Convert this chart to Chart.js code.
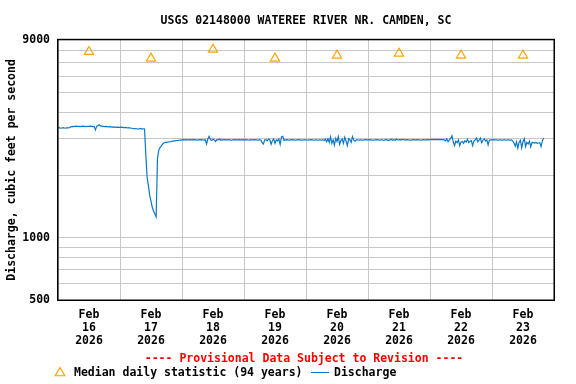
<!DOCTYPE html>
<html>
<head>
<meta charset="utf-8">
<title>USGS 02148000 Wateree River</title>
<script src="https://cdn.jsdelivr.net/npm/chart.js"></script>
<style>
  body { margin: 0; background: #fff; }
  canvas { display: block; }
</style>
</head>
<body>
<canvas id="flow-chart" width="576" height="384"></canvas>
<script>
// TEXT
const siteTitle = "USGS 02148000 WATEREE RIVER NR. CAMDEN, SC";
const yAxisTitle = "Discharge, cubic feet per second";
const provisionalNote = "---- Provisional Data Subject to Revision ----";
const medianLabel = "Median daily statistic (94 years)";
const dischargeLabel = "Discharge";

// x axis: one label per day, placed at noon
const dayLabels = ["Feb 16 2026", "Feb 17 2026", "Feb 18 2026", "Feb 19 2026",
                   "Feb 20 2026", "Feb 21 2026", "Feb 22 2026", "Feb 23 2026"];

// y axis (log): grid lines and the few that get a label
const yGridValues = [500, 600, 700, 800, 900, 1000, 2000, 3000, 4000, 5000, 6000, 7000, 8000, 9000];
const yLabelValues = [500, 1000, 9000];

// median daily statistic, one per day (cfs)
const medianFlow = [7880, 7320, 8090, 7320, 7570, 7740, 7570, 7570];

// discharge, every 30 minutes from Feb 16 00:00 (cfs)
const stepHours = 0.5;
const flowFeb16 = [3380, 3390, 3370, 3380, 3390, 3380, 3370, 3390, 3380, 3400, 3420,
  3440, 3430, 3440, 3450, 3440, 3440, 3430, 3440, 3450, 3440, 3440, 3430, 3440, 3440, 3450, 3440, 3430, 3440,
  3310, 3450, 3470, 3500, 3460,
  3450, 3440, 3430, 3440, 3430, 3420, 3430, 3420, 3410, 3420, 3410, 3400, 3410, 3400];
const flowFeb17 = [3400, 3410, 3400, 3390, 3400, 3390, 3380, 3390, 3380, 3370,
  3360, 3350, 3360, 3350, 3340, 3350, 3360, 3340, 3350, 3340,
  2500, 1950, 1780, 1600, 1500, 1400, 1340, 1300, 1260,
  2400, 2640, 2720, 2770, 2830, 2860,
  2880, 2880, 2890, 2900, 2900, 2910,
  2920, 2930, 2930, 2940, 2940, 2950, 2950];
const flowFeb18 = [2960, 2970, 2960, 2970, 2960, 2960, 2970, 2960, 2970, 2960,
  2970, 2960, 2950, 2970, 2960, 2970, 2960, 2950, 2970, 2830,
  2990, 3080, 2970, 2940, 2990, 2960, 2910, 2970, 2960, 2990,
  2950, 2970, 2960, 2970, 2960, 2960, 2970, 2960, 2950, 2960,
  2960, 2970, 2960, 2960, 2970, 2960, 2960, 2970];
const flowFeb19 = [2960, 2970, 2960, 2960, 2950, 2970, 2960, 2960, 2970, 2960,
  2960, 2950, 2970, 2960, 2880, 2830, 2960, 2970, 2930, 2990,
  2960, 2820, 2940, 2990, 2850, 2960, 2930, 2990, 2820, 3060,
  3080, 2940, 2960, 2970, 2960, 2950, 2960, 2970, 2960, 2960,
  2950, 2960, 2970, 2960, 2960, 2950, 2960, 2960];
const flowFeb20 = [2960, 2950, 2960, 2960, 2970, 2960, 2950, 2960, 2960, 2950,
  2960, 2960, 2950, 2970, 2940, 2990, 2900, 3000, 2880, 3060,
  2850, 2960, 2790, 3010, 2910, 3070, 2820, 2940, 2990, 2850,
  3050, 2930, 2780, 3000, 2960, 2880, 3070, 2950, 2920, 2960,
  2960, 2950, 2960, 2960, 2950, 2960, 2970, 2960];
const flowFeb21 = [2960, 2970, 2960, 2960, 2950, 2960, 2960, 2970, 2960, 2950,
  2960, 2960, 2950, 2960, 2970, 2960, 2940, 2960, 2980, 2950,
  2970, 2950, 2990, 2960, 2960, 2970, 2960, 2980, 2960, 2960,
  2970, 2960, 2960, 2950, 2960, 2970, 2960, 2960, 2970, 2960,
  2960, 2950, 2960, 2970, 2960, 2960, 2970, 2960];
const flowFeb22 = [2970, 2980, 2970, 2980, 2970, 2980, 2970, 2980, 2970, 2980,
  2970, 2960, 2930, 3000, 2900, 2960, 3010, 3100, 2890, 2780,
  2920, 2870, 2960, 2780, 2890, 2910, 2850, 2930, 2890, 2980,
  2870, 2920, 2940, 2780, 2920, 2960, 3020, 2900, 2950, 3020,
  2870, 2950, 3000, 2920, 2960, 2800, 2950, 2960];
const flowFeb23 = [2960, 2970, 2960, 2960, 2960, 2950, 2960, 2960, 2950, 2960,
  2960, 2950, 2960, 2960, 2950, 2960, 2930,
  2860, 2760, 2900, 2700, 2880, 2950, 2710, 2900, 3000, 2750,
  2880, 2830, 2920, 2740, 2880, 2870, 2860, 2880, 2850, 2860,
  2870, 2750, 2930, 3020];

const FONT = "'DejaVu Sans Mono', 'Liberation Mono', monospace";
const GRID = "#c8c8c8";
const LINE_BLUE = "#0a78c8";
const ORANGE = "#ffa500";

const discharge = [].concat(flowFeb16, flowFeb17, flowFeb18, flowFeb19,
                            flowFeb20, flowFeb21, flowFeb22, flowFeb23);
const dischargePoints = discharge.map((v, i) => ({ x: i * stepHours, y: v }));
const medianPoints = medianFlow.map((v, i) => ({ x: i * 24 + 12, y: v }));
const totalHours = dayLabels.length * 24;

// box round the plot + the provisional note and legend under the axis
const framePlugin = {
  id: "frame",
  afterDatasetsDraw(chart) {
    const { ctx, chartArea: a } = chart;
    ctx.save();
    ctx.strokeStyle = "#000";
    ctx.lineWidth = 1.5;
    ctx.strokeRect(a.left - 0.25, a.top - 0.25, a.right - a.left + 0.5, a.bottom - a.top + 0.5);
    ctx.restore();
  },
  afterDraw(chart) {
    const { ctx, chartArea: a } = chart;
    ctx.save();
    ctx.font = "bold 11.5px " + FONT;
    ctx.textBaseline = "middle";

    ctx.fillStyle = "#ff0000";
    ctx.textAlign = "center";
    ctx.fillText(provisionalNote, (a.left + a.right) / 2 - 2, 359);

    // legend
    const ly = 373;
    const r = 5.5;
    ctx.strokeStyle = ORANGE;
    ctx.lineWidth = 1.2;
    ctx.beginPath();
    ctx.moveTo(60, ly - r);
    ctx.lineTo(60 + r * 0.866, ly + r / 2);
    ctx.lineTo(60 - r * 0.866, ly + r / 2);
    ctx.closePath();
    ctx.stroke();

    ctx.fillStyle = "#000";
    ctx.textAlign = "left";
    ctx.fillText(chart.data.datasets[1].label, 74, ly);

    ctx.strokeStyle = LINE_BLUE;
    ctx.lineWidth = 1;
    ctx.beginPath();
    ctx.moveTo(311, ly - 0.5);
    ctx.lineTo(329, ly - 0.5);
    ctx.stroke();
    ctx.fillText(chart.data.datasets[0].label, 334, ly);
    ctx.restore();
  }
};

Chart.defaults.font.family = FONT;
Chart.defaults.font.size = 11.5;
Chart.defaults.font.weight = "bold";
Chart.defaults.color = "#000";

new Chart(document.getElementById("flow-chart").getContext("2d"), {
  type: "line",
  data: {
    datasets: [
      {
        label: dischargeLabel,
        data: dischargePoints,
        borderColor: LINE_BLUE,
        borderWidth: 1.2,
        pointRadius: 0,
        tension: 0,
        xAxisID: "x",
        yAxisID: "y"
      },
      {
        label: medianLabel,
        data: medianPoints,
        showLine: false,
        pointStyle: "triangle",
        pointRadius: 5.3,
        pointBorderWidth: 1.2,
        pointBorderColor: ORANGE,
        pointBackgroundColor: "rgba(0,0,0,0)",
        xAxisID: "x",
        yAxisID: "y"
      }
    ]
  },
  options: {
    responsive: false,
    animation: false,
    layout: { padding: { left: 0, right: 22, top: 0, bottom: 0 } },
    plugins: {
      legend: { display: false },
      tooltip: { enabled: false },
      title: {
        display: true,
        text: siteTitle,
        fullSize: false,
        color: "#000",
        font: { size: 11.5, weight: "bold", lineHeight: 1.2 },
        padding: { top: 14, bottom: 12 }
      }
    },
    scales: {
      x: {
        type: "linear",
        position: "bottom",
        min: 0,
        max: totalHours,
        afterBuildTicks: axis => {
          axis.ticks = dayLabels.map((d, i) => ({ value: i * 24 + 12 }));
        },
        afterFit: axis => { axis.height = 84; },
        grid: { display: false },
        border: { display: false },
        ticks: {
          padding: 1,
          autoSkip: false,
          maxRotation: 0,
          font: { lineHeight: 1.13 },
          callback: (value, index) => dayLabels[index].split(" ")
        }
      },
      xgrid: {
        type: "linear",
        position: "top",
        min: 0,
        max: totalHours,
        afterBuildTicks: axis => {
          axis.ticks = dayLabels.concat([""]).map((d, i) => ({ value: i * 24 }));
        },
        afterFit: axis => { axis.height = 0; },
        grid: { color: GRID, drawTicks: false },
        border: { display: false },
        ticks: { display: false }
      },
      y: {
        type: "logarithmic",
        min: 500,
        max: 9000,
        afterBuildTicks: axis => {
          axis.ticks = yGridValues.map(v => ({ value: v }));
        },
        afterFit: axis => { axis.width = 58; },
        grid: { color: GRID, drawTicks: false },
        border: { display: false },
        ticks: {
          padding: 8,
          autoSkip: false,
          callback: value => yLabelValues.includes(value) ? String(value) : ""
        },
        title: {
          display: true,
          text: yAxisTitle,
          padding: { top: 5, bottom: 0 }
        }
      }
    }
  },
  plugins: [framePlugin]
});
</script>
</body>
</html>
